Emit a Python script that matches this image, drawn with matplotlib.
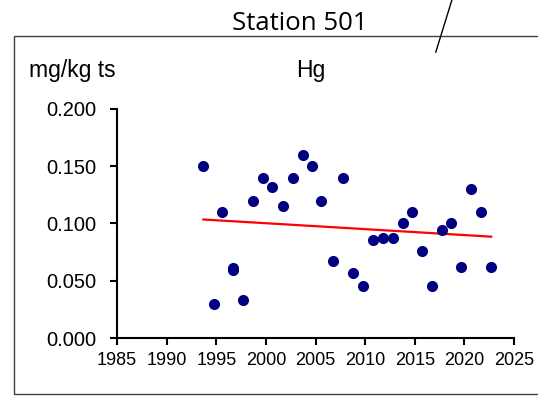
"""Station 501 - Hg in sediment, time series with trend line."""

import matplotlib
matplotlib.use("Agg")
import matplotlib.pyplot as plt
from matplotlib.patches import Rectangle
from matplotlib.lines import Line2D

# Data
years = [1993.7, 1994.8, 1995.6, 1996.7, 1996.7, 1997.7, 1998.7, 1999.7, 2000.6,
         2001.7, 2002.7, 2003.7, 2004.6, 2005.6, 2006.8, 2007.8, 2008.8, 2009.8,
         2010.8, 2011.8, 2012.8, 2013.8, 2014.7, 2015.7, 2016.7, 2017.7, 2018.7,
         2019.7, 2020.7, 2021.7, 2022.7]
hg = [0.150, 0.030, 0.110, 0.059, 0.061, 0.033, 0.120, 0.140, 0.132,
      0.115, 0.140, 0.160, 0.150, 0.120, 0.067, 0.140, 0.057, 0.045,
      0.086, 0.087, 0.087, 0.100, 0.110, 0.076, 0.045, 0.094, 0.100,
      0.062, 0.130, 0.110, 0.062]
trend_years = [1993.7, 2022.7]
trend_vals = [0.1035, 0.0885]

xticks = [1985, 1990, 1995, 2000, 2005, 2010, 2015, 2020, 2025]
yticks = [0.000, 0.050, 0.100, 0.150, 0.200]

fig = plt.figure(figsize=(5.38, 4.01), dpi=100)

# outer frame (right side runs off the picture)
fig.patches.append(Rectangle((0.026, 0.0175), 1.2, 0.8925, transform=fig.transFigure,
                             fill=False, edgecolor="#404040", lw=1.0))
fig.lines.append(Line2D([0.840, 0.810], [1.0, 0.870], transform=fig.transFigure,
                        color="black", lw=1.0))

fig.text(0.558, 0.942, "Station 501", ha="center", va="center",
         fontsize=18.5, family="Open Sans")
fig.text(0.054, 0.823, "mg/kg ts", ha="left", va="center", fontsize=16.5, family="Liberation Sans")
fig.text(0.578, 0.823, "Hg", ha="center", va="center", fontsize=16.5, family="Liberation Sans")

ax = fig.add_axes([0.2175, 0.1571, 0.7379, 0.5711])
ax.plot(years, hg, "o", color="#000080", markersize=8, markeredgewidth=0, zorder=3)
ax.plot(trend_years, trend_vals, color="red", lw=1.6, zorder=2)

ax.set_xlim(1985, 2025)
ax.set_ylim(0, 0.2)
ax.set_xticks(xticks)
ax.set_yticks(yticks)
ax.set_yticklabels([f"{v:.3f}" for v in yticks], family="Liberation Sans", fontsize=14.5)
ax.set_xticklabels([str(v) for v in xticks], family="Liberation Sans", fontsize=13)
ax.spines["top"].set_visible(False)
ax.spines["right"].set_visible(False)
for s in ("left", "bottom"):
    ax.spines[s].set_linewidth(1.5)
ax.tick_params(axis="y", direction="out", length=5, width=1.5, pad=10)
ax.tick_params(axis="x", direction="out", length=5, width=1.5, pad=5)

plt.savefig("out.png", dpi=100)
